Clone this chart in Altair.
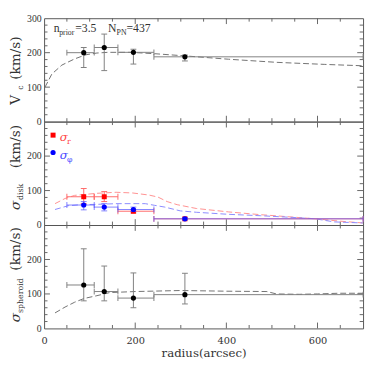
import altair as alt
import pandas as pd

# ---------------- data ----------------
bin_x  = [87, 132, 196, 309]
bin_lo = [50, 110, 162, 241]
bin_hi = [110, 162, 241, 700]

vc     = [200, 215, 201, 188]
vc_lo  = [157, 148, 167, 176]
vc_hi  = [215, 254, 210, 193]

sig_r    = [82, 82, 40, 18]
sig_r_lo = [62, 68, 35, 15]
sig_r_hi = [106, 97, 44, 21]

sig_phi    = [58, 52, 45, 18]
sig_phi_lo = [44, 41, 39, 15]
sig_phi_hi = [68, 62, 52, 22]

sig_sph    = [126, 107, 88, 98]
sig_sph_lo = [80, 80, 60, 71]
sig_sph_hi = [231, 181, 161, 160]

# model curves (dashed)
vc_mod_r = [2, 17, 39, 67, 92, 116, 140, 190, 243, 306, 405, 510, 616, 700]
vc_mod_v = [100, 138, 164, 182, 194, 199, 201, 201, 197, 191, 181, 172, 166, 162]

sr_mod_r = [24, 46, 67, 116, 158, 194, 230, 250, 270, 292, 334, 405, 475, 546, 595, 651, 700]
sr_mod_v = [62, 77, 86, 92, 95, 93, 87, 81, 68, 59, 48, 38, 30, 23, 18, 11, 6]

sp_mod_r = [24, 53, 81, 116, 160, 222, 243, 265, 299, 334, 405, 475, 546, 595, 637, 700]
sp_mod_v = [45, 56, 59, 60, 62, 62, 57, 52, 41, 37, 31, 27, 22, 18, 9, 6]

sph_mod_r = [24, 46, 67, 88, 116, 144, 200, 300, 400, 489, 510, 560, 600, 645, 700]
sph_mod_v = [45, 62, 76, 87, 95, 104, 107, 110, 108, 107, 100, 99, 100, 102, 102]

# axis ticks / labels
x_labels = [0, 200, 400, 600]
x_major = [200, 400, 600]
x_minor = [50, 100, 150, 250, 300, 350, 450, 500, 550, 650]
y_major = [100, 200]
y_minor = [20, 40, 60, 80, 120, 140, 160, 180, 220, 240, 260, 280]
y_labels_top = [0, 100, 200, 300]
y_labels_low = [0, 100, 200]

# ---------------- styling ----------------
W, H = 327, 106
S = H / 104.0   # vertical scale for annotation positions
TXT = "#333333"
TICK = "#666666"
GREY_ERR = "#808080"
GREY_DASH = "#707070"
RED, RED_ERR, RED_DASH = "#ff0000", "#ff6a6a", "#ff9090"
BLUE, BLUE_ERR, BLUE_DASH = "#0000ff", "#5a5aff", "#8a8aff"

xs = alt.Scale(domain=[0, 700], nice=False, zero=False)
ys = alt.Scale(domain=[0, 300], nice=False, zero=False)

ONE = pd.DataFrame({"k": [0]})

XAXIS = alt.Axis(values=x_labels, title="radius(arcsec)", ticks=False, domain=False,
                 grid=False, labelFont="DejaVu Serif", labelFontSize=10, labelColor=TXT,
                 labelPadding=7, labelFlush=False, labelBound=False,
                 titleFont="DejaVu Serif", titleFontSize=12, titleFontWeight="normal",
                 titleColor=TXT, titlePadding=3)


def yaxis(vals):
    return alt.Axis(values=vals, title=None, ticks=False, domain=False, grid=False,
                    labelFont="Liberation Serif", labelFontSize=10, labelColor=TXT,
                    labelPadding=3, labelFlush=False, labelBound=False, labelOverlap=False)


YAX = {"top": yaxis(y_labels_top), "mid": yaxis(y_labels_low), "bot": yaxis(y_labels_low)}


def X(field, p):
    return alt.X(f"{field}:Q", scale=xs, axis=XAXIS if p == "bot" else None)


def Y(field, p):
    return alt.Y(f"{field}:Q", scale=ys, axis=YAX[p])


def tick_layers(p):
    out = []
    for vals, L in ((y_major, 6), (y_minor, 3.5)):
        base = alt.Chart(pd.DataFrame({"v": vals})).mark_rule(color=TICK, strokeWidth=1)
        out.append(base.encode(y=Y("v", p), x=alt.value(0), x2=alt.value(L)))
        out.append(base.encode(y=Y("v", p), x=alt.value(W - L), x2=alt.value(W)))
    for vals, L in ((x_major, 6), (x_minor, 3.5)):
        base = alt.Chart(pd.DataFrame({"v": vals})).mark_rule(color=TICK, strokeWidth=1)
        out.append(base.encode(x=X("v", p), y=alt.value(0), y2=alt.value(L)))
        out.append(base.encode(x=X("v", p), y=alt.value(H - L), y2=alt.value(H)))
    return out


def curve(xv, yv, color, p):
    df = pd.DataFrame({"r": xv, "v": yv})
    return alt.Chart(df).mark_line(color=color, strokeWidth=1, strokeDash=[6, 3]).encode(
        x=X("r", p), y=Y("v", p), order="r:Q")


def errs(val, lo, hi, color, p, opacity=1.0):
    df = pd.DataFrame({"x": bin_x, "xlo": bin_lo, "xhi": bin_hi,
                       "y": val, "ylo": lo, "yhi": hi})
    base = alt.Chart(df)
    return [
        base.mark_rule(color=color, strokeWidth=1, opacity=opacity).encode(
            x=X("xlo", p), x2="xhi:Q", y=Y("y", p)),
        base.mark_rule(color=color, strokeWidth=1, opacity=opacity).encode(
            x=X("x", p), y=Y("ylo", p), y2="yhi:Q"),
        base.mark_tick(color=color, orient="horizontal", size=6, thickness=1, opacity=opacity).encode(
            x=X("x", p), y=Y("ylo", p)),
        base.mark_tick(color=color, orient="horizontal", size=6, thickness=1, opacity=opacity).encode(
            x=X("x", p), y=Y("yhi", p)),
        base.mark_tick(color=color, orient="vertical", size=6, thickness=1, opacity=opacity).encode(
            x=X("xlo", p), y=Y("y", p)),
        base.mark_tick(color=color, orient="vertical", size=6, thickness=1, opacity=opacity).encode(
            x=X("xhi", p), y=Y("y", p)),
    ]


def pts(val, mark, color, p):
    df = pd.DataFrame({"x": bin_x, "y": val})
    m = alt.Chart(df)
    m = m.mark_square(size=26, color=color, opacity=1) if mark == "square" else \
        m.mark_circle(size=28, color=color, opacity=1)
    return m.encode(x=X("x", p), y=Y("y", p))


def txt(text, x, y, size, color=TXT, font="DejaVu Serif", style="normal", angle=None):
    kw = dict(text=text, align="left", baseline="alphabetic", font=font,
              fontSize=size, fontStyle=style, color=color)
    if angle is not None:
        kw["angle"] = angle
    return alt.Chart(ONE).mark_text(**kw).encode(x=alt.value(x), y=alt.value(y))


TX = -25      # baseline of rotated y titles (plot coords)
SX = TX + 3   # baseline of rotated subscripts


def ytitle(pieces):
    out = []
    for text, y0, size, sub, italic in pieces:
        out.append(txt(text, SX if sub else TX, y0 * S, size,
                       style="italic" if italic else "normal", angle=270))
    return out


# ---------------- panels ----------------
top = alt.layer(
    *tick_layers("top"),
    curve(vc_mod_r, vc_mod_v, GREY_DASH, "top"),
    *errs(vc, vc_lo, vc_hi, GREY_ERR, "top"),
    pts(vc, "circle", "#000000", "top"),
    txt("n", 9.9, 13.7 * S, 12, font="Liberation Serif"),
    txt("prior", 15.5, 16.5 * S, 8, font="Liberation Serif"),
    txt("=3.5", 31.9, 13.7 * S, 12, font="Liberation Serif"),
    txt("N", 65.4, 13.7 * S, 12, font="Liberation Serif"),
    txt("PN", 74.3, 16.5 * S, 8, font="Liberation Serif"),
    txt("=437", 84.5, 13.7 * S, 12, font="Liberation Serif"),
    *ytitle([("V", 87, 14, False, False), ("c", 72, 8, True, False),
             ("(km/s)", 62, 14, False, False)]),
).properties(width=W, height=H)

mid = alt.layer(
    *tick_layers("mid"),
    curve(sr_mod_r, sr_mod_v, RED_DASH, "mid"),
    curve(sp_mod_r, sp_mod_v, BLUE_DASH, "mid"),
    *errs(sig_r, sig_r_lo, sig_r_hi, RED_ERR, "mid"),
    pts(sig_r, "square", RED, "mid"),
    *errs(sig_phi, sig_phi_lo, sig_phi_hi, BLUE_ERR, "mid", opacity=0.75),
    pts(sig_phi, "circle", BLUE, "mid"),
    alt.Chart(ONE).mark_square(size=26, color=RED, opacity=1).encode(
        x=alt.value(9.2), y=alt.value(13.6 * S)),
    alt.Chart(ONE).mark_circle(size=28, color=BLUE, opacity=1).encode(
        x=alt.value(9.2), y=alt.value(31.1 * S)),
    txt("σ", 16, 19.8 * S, 12, color="#ff4a4a", style="italic"),
    txt("r", 23.5, 22.5 * S, 8, color="#ff4a4a"),
    txt("σ", 16, 37.3 * S, 12, color="#4a4aff", style="italic"),
    txt("φ", 23.5, 40.5 * S, 8, color="#4a4aff"),
    *ytitle([("σ", 89, 14, False, True), ("disk", 78.9, 8, True, False),
             ("(km/s)", 46.9, 14, False, False)]),
).properties(width=W, height=H)

bot = alt.layer(
    *tick_layers("bot"),
    curve(sph_mod_r, sph_mod_v, GREY_DASH, "bot"),
    *errs(sig_sph, sig_sph_lo, sig_sph_hi, GREY_ERR, "bot"),
    pts(sig_sph, "circle", "#000000", "bot"),
    *ytitle([("σ", 97.8, 14, False, True), ("spheroid", 88.4, 8, True, False),
             ("(km/s)", 45.9, 14, False, False)]),
).properties(width=W, height=H)

chart = alt.vconcat(top, mid, bot, spacing=0, bounds="flush").properties(
    padding=0, background="white"
).configure_view(stroke="#555555", strokeWidth=1)

chart.save("out.html", embed_options={"renderer": "svg", "actions": False})
